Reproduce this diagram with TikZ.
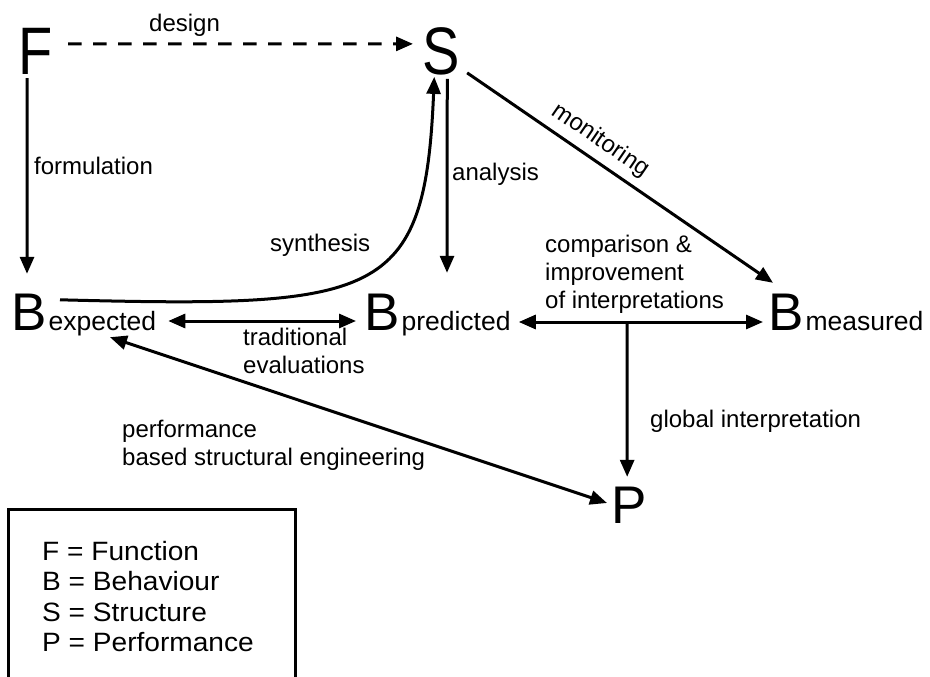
\documentclass[tikz,border=0pt]{standalone}
\usepackage{fontspec}
\setmainfont{Liberation Sans}
\newfontfamily\legendfont[FakeStretch=1.06]{Liberation Sans}
\usetikzlibrary{arrows.meta,calc}
\newcommand{\lowtxt}[1]{\kern2pt{\fontsize{26.5}{30}\selectfont #1}}

\begin{document}
\begin{tikzpicture}[x=1pt, y=-1pt, >={Triangle[length=17pt,width=14pt]},
    big/.style={inner sep=0, anchor=base west, font=\fontsize{53}{53}\selectfont,
        text height=38pt, text depth=6pt},
    tall/.style={inner sep=0, anchor=base west, font=\fontsize{56}{56}\selectfont, yscale=1.2},
    lbl/.style={inner sep=0, font=\fontsize{24}{28}\selectfont, align=left},
    link/.style={line width=3pt}]

    % Khung hình (930 x 677, y hướng xuống)
    \useasboundingbox (0,0) rectangle (930,677);
    \clip (0,0) rectangle (930,677);

    % Các chữ lớn F, S, B, P
    \node[tall] (F) at (18.5,75) {F};
    \node[tall] (S) at (422.4,75) {S};
    \node[big] (Bexp) at (11,330) {B\lowtxt{expected}};
    \node[big] (Bpred) at (364,330) {B\lowtxt{predicted}};
    \node[big] (Bmeas) at (768,330) {B\lowtxt{measured}};
    \node[big] (P) at (611,523) {P};

    % F -> S (nét đứt)
    \draw[link, ->, dash pattern=on 13.5pt off 11.5pt]
        ($(F.east)+(15,-8)$) -- ($(S.west)+(-9.4,-8)$);
    \node[lbl, anchor=base west] (design) at (149,32) {design};

    % F -> B expected
    \draw[link, ->] ($(F.south)+(-8.6,3)$) -- ($(Bexp.north west)+(16,-18)$);
    \node[lbl, anchor=base west] (formulation) at (34,175) {formulation};

    % S -> B predicted
    \draw[link, ->] ($(S.south)+(6,3)$) -- ($(Bpred.north west)+(83,-19)$);
    \node[lbl, anchor=base west] (analysis) at (452,180) {analysis};

    % S -> B measured
    \draw[link, ->] ($(S.east)+(7,21)$) -- ($(Bmeas.north west)+(5,-9)$)
        node[lbl, sloped, above, pos=0.4, yshift=7pt] (monitoring) {monitoring};

    % B expected -> S (đường cong)
    \draw[link, ->] ($(Bexp.north west)+(49,8)$)
        .. controls (380,308) and (425,300) .. ($(S.south)+(-7,1)$);
    \node[lbl, anchor=base west] (synthesis) at (270,251) {synthesis};

    % B expected <-> B predicted
    \draw[link, <->] ($(Bexp.east)+(12,7)$) -- ($(Bpred.west)+(-8,7)$);
    \node[lbl, anchor=north west] (traditional) at (243,327.8) {traditional\\evaluations};

    % B predicted <-> B measured
    \draw[link, <->] ($(Bpred.east)+(8,8)$) -- ($(Bmeas.west)+(-5,8)$);
    \node[lbl, anchor=north west] (comparison) at (545,234.8)
        {comparison \&\\improvement\\of interpretations};

    % Nhánh xuống P
    \coordinate (split) at (627,322);
    \draw[link, ->] (split) -- ($(P.north)+(-1.7,-8)$);
    \node[lbl, anchor=base west] (global) at (650,427) {global interpretation};

    % B expected <-> P
    \draw[link, <->] ($(Bexp.south west)+(99,1)$) -- ($(P.west)+(-4,-4)$);
    \node[lbl, anchor=north west] (pbse) at (122,419.5)
        {performance\\based structural engineering};

    % Chú thích
    \draw[link] (8,685) |- (295,509) -- (295,685);
    \node[inner sep=0, anchor=north west, align=left,
        font=\legendfont\fontsize{26.5}{30.5}\selectfont] (legend) at (42,541)
        {F = Function\\B = Behaviour\\S = Structure\\P = Performance};

\end{tikzpicture}
\end{document}
